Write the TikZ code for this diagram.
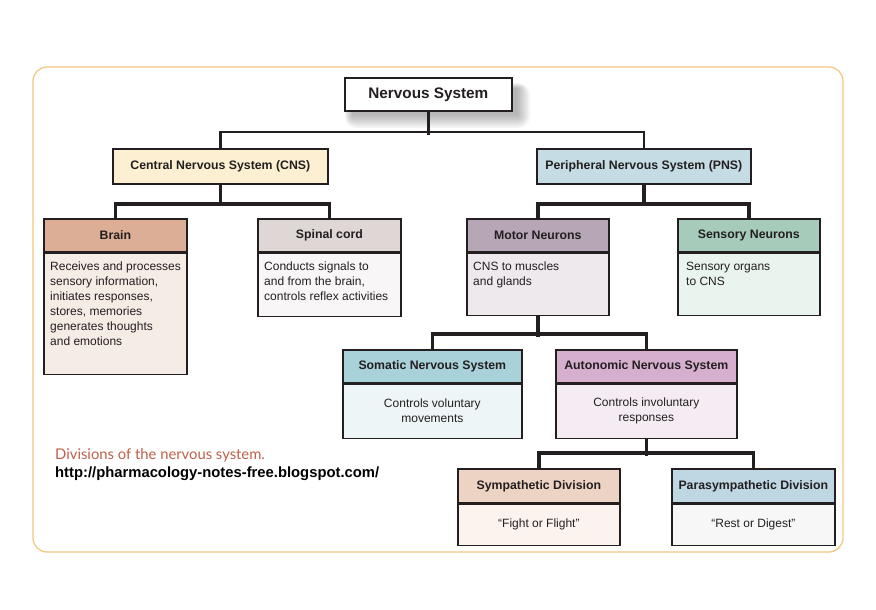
\documentclass[tikz,border=0pt]{standalone}
\usepackage{fontspec}
\setmainfont{Liberation Sans}
\newfontfamily\capfont{Lato}
\definecolor{outer}{HTML}{F3C57E}
\definecolor{ink}{HTML}{231F20}
\definecolor{cnsF}{HTML}{FDF0D2}
\definecolor{pnsF}{HTML}{C5DCE5}
\definecolor{brainH}{HTML}{DCAE95}\definecolor{brainB}{HTML}{F6ECE6}
\definecolor{spinH}{HTML}{DFD7D5}\definecolor{spinB}{HTML}{F8F6F6}
\definecolor{motH}{HTML}{B6A6B6}\definecolor{motB}{HTML}{EDE9ED}
\definecolor{senH}{HTML}{A6CBBB}\definecolor{senB}{HTML}{EAF4EE}
\definecolor{somH}{HTML}{A9D1D9}\definecolor{somB}{HTML}{EEF5F7}
\definecolor{autH}{HTML}{D6AFCF}\definecolor{autB}{HTML}{F5ECF3}
\definecolor{symH}{HTML}{EDD3C3}\definecolor{symB}{HTML}{FCF3EF}
\definecolor{parH}{HTML}{BFD7E3}\definecolor{parB}{HTML}{F7F7F7}
\definecolor{capC}{HTML}{C0604A}
\tikzset{
  boxline/.style={draw=ink, line width=1.7pt},
  hdr/.style={boxline, anchor=north west, inner sep=0pt, font=\fontsize{12.3}{14}\selectfont\bfseries, text=ink},
  bod/.style={boxline, anchor=north west, inner sep=0pt},
  btxt/.style={anchor=north west, inner sep=0pt, align=left, font=\fontsize{12}{15}\selectfont, text=ink},
  ctxt/.style={inner sep=0pt, align=center, font=\fontsize{12}{15}\selectfont, text=ink},
  conn/.style={draw=ink, line width=3.5pt},
  connthin/.style={draw=ink, line width=2.5pt},
}
% \mkbox{name}{x}{y}{w}{header h}{body h}{hcol}{bcol}{title}
\newcommand{\mkbox}[9]{%
  \node[hdr, fill=#7, minimum width=#4pt, minimum height=#5pt] (#1H) at (#2,#3) {#9};
  \node[bod, fill=#8, minimum width=#4pt, minimum height=#6pt] (#1) at (#1H.south west) {};
}
\begin{document}
\begin{tikzpicture}[x=1pt,y=-1pt]
\useasboundingbox (0,0) rectangle (876,610);
\fill[white] (0,0) rectangle (876,610);
% outer frame
\draw[outer, line width=1.2pt, rounded corners=14pt] (33,67) rectangle (843,552);

% soft shadow of the top node
\foreach \s in {0,2,...,12}{
  \fill[black, opacity=0.045, rounded corners=\s pt] (352-\s*0.6,88-\s*0.4) rectangle (518+\s,116+\s);
}
% top node
\node[boxline, fill=white, anchor=north west, minimum width=167pt, minimum height=33pt, inner sep=0pt,
      font=\fontsize{15.3}{18}\selectfont\bfseries, text=ink] (ns) at (344,77) {Nervous System};

% level 1
\node[hdr, fill=cnsF, minimum width=215pt, minimum height=35pt] (cns) at (112,148) {Central Nervous System (CNS)};
\node[hdr, fill=pnsF, minimum width=214pt, minimum height=35pt] (pns) at (536,148) {Peripheral Nervous System (PNS)};

% level 2
\mkbox{brain}{43}{218}{143}{33}{121}{brainH}{brainB}{Brain}
\mkbox{spin}{257}{218}{143}{33}{63}{spinH}{spinB}{Spinal cord}
\mkbox{mot}{466}{218}{142}{33}{62}{motH}{motB}{Motor Neurons}
\mkbox{sen}{677}{218}{142}{33}{62}{senH}{senB}{Sensory Neurons}

% level 3
\mkbox{som}{342}{349}{179}{33}{54}{somH}{somB}{Somatic Nervous System}
\mkbox{aut}{555}{349}{181}{33}{54}{autH}{autB}{Autonomic Nervous System}

% level 4
\mkbox{sym}{457}{468}{162}{34}{41}{symH}{symB}{Sympathetic Division}
\mkbox{par}{671}{468}{163}{34}{41}{parH}{parB}{Parasympathetic Division}

% body texts
\node[btxt] (brainT) at ([xshift=7pt,yshift=-9pt]brain.north west) {Receives and processes\\sensory information,\\initiates responses,\\stores, memories\\generates thoughts\\and emotions};
\node[btxt] (spinT) at ([xshift=7pt,yshift=-9pt]spin.north west) {Conducts signals to\\and from the brain,\\controls reflex activities};
\node[btxt] (motT) at ([xshift=7pt,yshift=-9pt]mot.north west) {CNS to muscles\\and glands};
\node[btxt] (senT) at ([xshift=9pt,yshift=-9pt]sen.north west) {Sensory organs\\to CNS};
\node[ctxt] (somT) at ([yshift=1pt]som.center) {Controls voluntary\\movements};
\node[ctxt] (autT) at ([yshift=1pt]aut.center) {Controls involuntary\\responses};
\node[ctxt] (symT) at ([yshift=1pt]sym.center) {\textquotedblleft Fight or Flight\textquotedblright};
\node[ctxt] (parT) at ([yshift=1pt]par.center) {\textquotedblleft Rest or Digest\textquotedblright};

% connectors
\draw[conn] (ns.south) -- ++(0,23);
\draw[connthin] (cns.north) -- ++(0,-16) -| (pns.north);
\draw[conn] (cns.south) -- ++(0,21);
\draw[conn] (brainH.north) -- ++(0,-14) -| (spinH.north);
\draw[conn] (pns.south) -- ++(0,21);
\draw[conn] (motH.north) -- ++(0,-14) -| (senH.north);
\draw[conn] (mot.south) -- ++(0,21);
\draw[conn] (somH.north) -- ++(0,-15) -| (autH.north);
\draw[conn] (aut.south) -- ++(0,17);
\draw[conn] (symH.north) -- ++(0,-15) -| (parH.north);

% caption
\node[anchor=west, inner sep=0pt, text=capC, font=\capfont\fontsize{14.8}{17}\selectfont] (cap) at (55,455) {Divisions of the nervous system.};
\node[anchor=west, inner sep=0pt, text=black, font=\fontsize{14.8}{17}\selectfont\bfseries] (url) at (55,474) {http://pharmacology-notes-free.blogspot.com/};
\end{tikzpicture}
\end{document}
